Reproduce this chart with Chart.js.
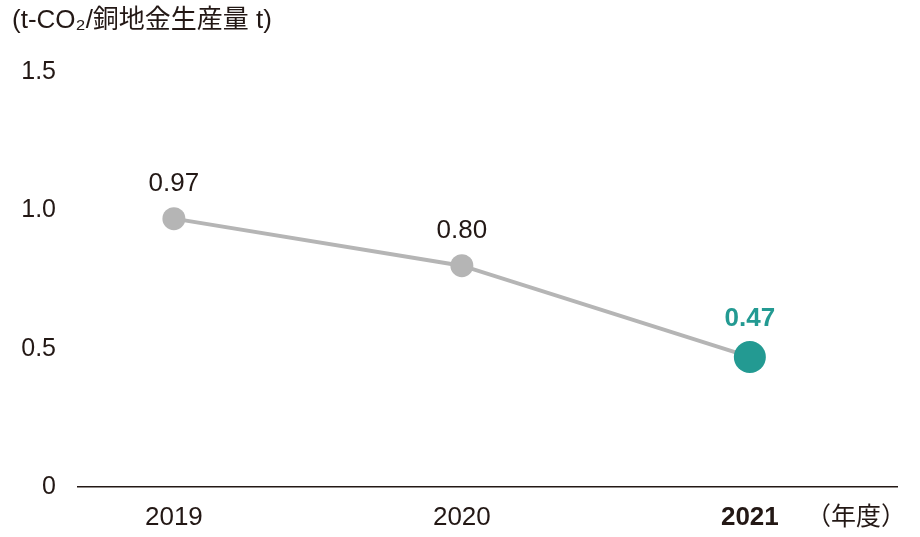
<!DOCTYPE html>
<html>
<head>
<meta charset="utf-8">
<script src="https://cdn.jsdelivr.net/npm/chart.js@4.4.1/dist/chart.umd.min.js"></script>
<style>
	html, body { margin: 0; padding: 0; background: #fff; }
	#wrap { width: 920px; height: 537px; }
</style>
</head>
<body>
<div id="wrap"><canvas id="co2-canvas"></canvas></div>
<script>
// Chart values
const years = ["2019", "2020", "2021"];
const intensity = [0.97, 0.80, 0.47];
const yTicks = [0, 0.5, 1.0, 1.5];
const unitLabel = "(t-CO₂/銅地金生産量 t)";
const yearUnit = "（年度）";

const textColor = "#231815";
const grey = "#b5b5b5";
const teal = "#239a92";
const latest = years.length - 1;
const latin = "'Liberation Sans', Arial, sans-serif";

// Value labels above each point + unit texts
const labelPlugin = {
	id: "labels",
	afterDatasetsDraw(chart) {
		const ctx = chart.ctx;
		const meta = chart.getDatasetMeta(0);
		ctx.save();
		ctx.textAlign = "center";
		ctx.textBaseline = "middle";
		meta.data.forEach((pt, i) => {
			if (i === latest) {
				ctx.font = "bold 26px " + latin;
				ctx.fillStyle = teal;
				ctx.fillText(intensity[i].toFixed(2), pt.x, pt.y - 38);
			} else {
				ctx.font = "26px " + latin;
				ctx.fillStyle = textColor;
				ctx.fillText(intensity[i].toFixed(2), pt.x, pt.y - 35);
			}
		});

		ctx.textAlign = "left";
		ctx.fillStyle = textColor;
		ctx.font = "26px 'Liberation Sans', 'Noto Sans CJK JP', sans-serif";
		ctx.fillText(unitLabel, 12, 21);

		ctx.textAlign = "center";
		ctx.font = "25px 'Noto Sans CJK JP', sans-serif";
		ctx.fillText(yearUnit, 856, 515);
		ctx.restore();
	}
};

const ctx = document.getElementById("co2-canvas").getContext("2d");

let chart = new Chart(ctx, {
	type: "line",
	data: {
		datasets: [
			{
				data: intensity.map((v, i) => ({ x: i, y: v })),
				borderColor: grey,
				borderWidth: 4,
				pointBackgroundColor: intensity.map((v, i) => i === latest ? teal : grey),
				pointBorderWidth: 0,
				pointRadius: intensity.map((v, i) => i === latest ? 16 : 11.5),
				tension: 0
			}
		]
	},
	options: {
		responsive: true,
		maintainAspectRatio: false,
		animation: false,
		layout: {
			padding: { top: 72, right: 23, left: 0, bottom: 0 }
		},
		scales: {
			x: {
				type: "linear",
				min: -0.333,
				max: 2.511,
				grid: { display: false },
				border: { display: true, color: textColor, width: 1.5 },
				afterBuildTicks: (axis) => {
					axis.ticks = years.map((y, i) => ({ value: i }));
				},
				afterFit: (axis) => { axis.height = 50; },
				ticks: {
					padding: 7,
					color: textColor,
					callback: (value) => years[value],
					font: (c) => ({
						family: latin,
						size: 26,
						weight: c.tick && c.tick.value === latest ? "bold" : "normal"
					})
				}
			},
			y: {
				min: 0,
				max: 1.5,
				grid: { display: false },
				border: { display: false },
				afterBuildTicks: (axis) => {
					axis.ticks = yTicks.map(v => ({ value: v }));
				},
				afterFit: (axis) => { axis.width = 78; },
				ticks: {
					padding: 14,
					color: textColor,
					callback: (value) => value === 0 ? "0" : value.toFixed(1),
					font: { family: latin, size: 25 }
				}
			}
		},
		plugins: {
			legend: { display: false },
			tooltip: { enabled: false }
		}
	},
	plugins: [labelPlugin]
});
</script>
</body>
</html>
